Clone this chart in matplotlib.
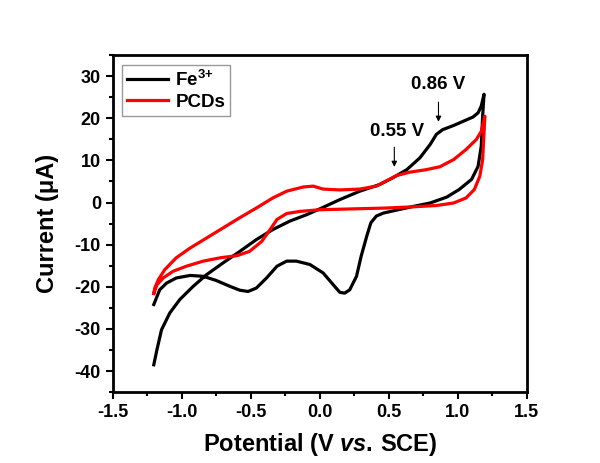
import matplotlib
matplotlib.use("Agg")
import matplotlib.pyplot as plt
from matplotlib.ticker import MultipleLocator

plt.rcParams["font.family"] = ["Liberation Sans", "DejaVu Sans"]
plt.rcParams["font.weight"] = "bold"
plt.rcParams["axes.unicode_minus"] = False
plt.rcParams["mathtext.fontset"] = "custom"
plt.rcParams["mathtext.rm"] = "Liberation Sans:bold"
plt.rcParams["mathtext.bf"] = "Liberation Sans:bold"
plt.rcParams["mathtext.it"] = "Liberation Sans:bold:italic"

# Fe3+ : upper branch left -> right, then lower branch right -> left
fe_v = [-1.203, -1.18, -1.147, -1.087, -1.014, -0.918, -0.82, -0.70, -0.58, -0.46,
        -0.34, -0.217, -0.097, 0.0, 0.145, 0.29, 0.435, 0.53, 0.63, 0.725,
        0.80, 0.845, 0.89, 0.97, 1.04, 1.11, 1.147, 1.17, 1.19,
        1.18, 1.17, 1.147, 1.10, 1.01, 0.92, 0.80, 0.68, 0.555, 0.46,
        0.41, 0.37, 0.34, 0.30, 0.266, 0.217, 0.18, 0.145, 0.10, 0.024,
        -0.072, -0.17, -0.24, -0.31, -0.386, -0.46, -0.52, -0.58, -0.65,
        -0.75, -0.845, -0.94, -1.04, -1.11, -1.16, -1.203]
fe_i = [-38.5, -34.9, -30.2, -26.2, -23.0, -19.9, -17.1, -14.3, -11.6, -8.8,
        -6.4, -4.4, -2.9, -1.5, 0.7, 2.7, 4.3, 5.9, 7.8, 10.6,
        13.8, 16.2, 17.3, 18.3, 19.3, 20.3, 21.3, 22.9, 25.7,
        20.5, 13.4, 8.6, 5.5, 3.1, 1.3, -0.1, -0.9, -1.8, -2.5,
        -3.2, -4.8, -8.0, -12.7, -17.5, -20.7, -21.5, -21.3, -19.6, -16.7,
        -14.7, -13.9, -13.9, -15.1, -17.9, -20.3, -21.1, -20.8, -19.9,
        -18.5, -17.5, -17.3, -17.9, -19.1, -20.7, -24.2]

# PCDs
pcd_v = [-1.203, -1.196, -1.17, -1.123, -1.04, -0.94, -0.82, -0.70, -0.58, -0.46,
         -0.34, -0.24, -0.12, -0.048, 0.024, 0.145, 0.29, 0.41, 0.48, 0.555,
         0.65, 0.77, 0.87, 0.97, 1.06, 1.135, 1.17, 1.196,
         1.19, 1.18, 1.16, 1.12, 1.06, 0.97, 0.845, 0.68, 0.48, 0.24,
         0.0, -0.145, -0.24, -0.31, -0.36, -0.42, -0.51, -0.60, -0.72,
         -0.845, -0.966, -1.063, -1.135, -1.18, -1.203]
pcd_i = [-21.5, -20.3, -18.3, -15.9, -13.1, -10.8, -8.4, -6.0, -3.6, -1.3,
         1.1, 2.7, 3.7, 3.9, 3.2, 3.0, 3.2, 3.9, 5.1, 6.4,
         7.2, 7.8, 8.5, 10.2, 12.6, 15.0, 16.9, 20.5,
         16.5, 10.2, 6.3, 3.1, 1.1, -0.1, -0.7, -1.0, -1.3, -1.5,
         -1.7, -2.1, -2.6, -4.0, -6.4, -9.2, -11.6, -12.6, -13.1,
         -13.9, -15.1, -16.3, -17.9, -19.5, -21.6]

fig = plt.figure(figsize=(6.0, 4.63), dpi=100)
ax = fig.add_axes([0.188, 0.153, 0.690, 0.728])

ax.plot(fe_v, fe_i, color="black", lw=2.3, label="Fe$^{3{+}}$", solid_joinstyle="round")
ax.plot(pcd_v, pcd_i, color="#ff0000", lw=2.3, label="PCDs", solid_joinstyle="round")

ax.set_xlim(-1.5, 1.5)
ax.set_ylim(-45, 35)
ax.xaxis.set_major_locator(MultipleLocator(0.5))
ax.xaxis.set_minor_locator(MultipleLocator(0.25))
ax.yaxis.set_major_locator(MultipleLocator(10))
ax.yaxis.set_minor_locator(MultipleLocator(5))
ax.tick_params(which="both", direction="out", width=1.5, labelsize=13)
ax.tick_params(which="major", length=5)
ax.tick_params(which="minor", length=3)
for s in ax.spines.values():
    s.set_linewidth(2)
for lab in ax.get_xticklabels() + ax.get_yticklabels():
    lab.set_fontweight("bold")

ax.set_xlabel("Potential (V $\\it{vs.}\\,$SCE)", fontsize=17, fontweight="bold", labelpad=7)
ax.set_ylabel("Current (μA)", fontsize=17, fontweight="bold", labelpad=11)

# peak markers
ax.annotate("", xy=(0.86, 18.5), xytext=(0.86, 24.5),
            arrowprops=dict(arrowstyle="-|>", color="black", lw=0.8, mutation_scale=8))
ax.text(0.86, 28.0, "0.86 V", ha="center", va="center", fontsize=13.5, fontweight="bold")
ax.annotate("", xy=(0.54, 7.8), xytext=(0.54, 13.8),
            arrowprops=dict(arrowstyle="-|>", color="black", lw=0.8, mutation_scale=8))
ax.text(0.56, 16.9, "0.55 V", ha="center", va="center", fontsize=13.5, fontweight="bold")

leg = ax.legend(loc="upper left", fontsize=13.5, frameon=True, fancybox=False,
                edgecolor="gray", handlelength=2.2, borderpad=0.25,
                labelspacing=0.2, handletextpad=0.4, borderaxespad=0,
                bbox_to_anchor=(0.022, 0.97))
leg.get_frame().set_linewidth(1)
for t in leg.get_texts():
    t.set_fontweight("bold")

fig.savefig("out.png", dpi=100)
